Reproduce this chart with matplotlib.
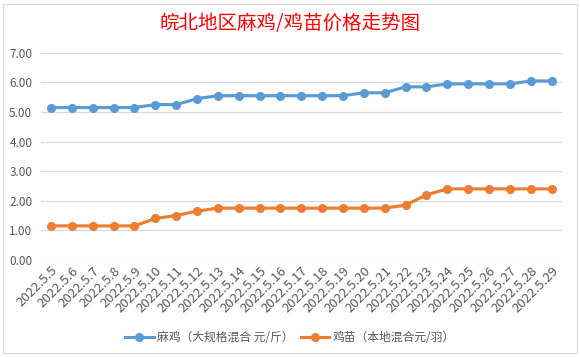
import matplotlib
matplotlib.use("Agg")
import matplotlib.pyplot as plt
from matplotlib.patches import Rectangle

plt.rcParams['font.family'] = ['Noto Sans CJK SC', 'DejaVu Sans']

dates = ["2022.5.5", "2022.5.6", "2022.5.7", "2022.5.8", "2022.5.9", "2022.5.10",
         "2022.5.11", "2022.5.12", "2022.5.13", "2022.5.14", "2022.5.15", "2022.5.16",
         "2022.5.17", "2022.5.18", "2022.5.19", "2022.5.20", "2022.5.21", "2022.5.22",
         "2022.5.23", "2022.5.24", "2022.5.25", "2022.5.26", "2022.5.27", "2022.5.28",
         "2022.5.29"]
ma_ji = [5.15, 5.15, 5.15, 5.15, 5.15, 5.25, 5.25, 5.45, 5.55, 5.55, 5.55, 5.55,
         5.55, 5.55, 5.55, 5.65, 5.65, 5.85, 5.85, 5.95, 5.95, 5.95, 5.95, 6.05, 6.05]
ji_miao = [1.15, 1.15, 1.15, 1.15, 1.15, 1.40, 1.50, 1.65, 1.75, 1.75, 1.75, 1.75,
           1.75, 1.75, 1.75, 1.75, 1.75, 1.85, 2.20, 2.40, 2.40, 2.40, 2.40, 2.40, 2.40]
labels = ["麻鸡（大规格混合 元/斤）", "鸡苗（本地混合元/羽）"]
title = "皖北地区麻鸡/鸡苗价格走势图"
yticks = [0, 1, 2, 3, 4, 5, 6, 7]

fig = plt.figure(figsize=(5.8, 3.57), dpi=100)
fig.patches.append(Rectangle((0.006, 0.012), 0.988, 0.978, transform=fig.transFigure,
                             fill=False, edgecolor='#D9D9D9', linewidth=0.8))
ax = fig.add_axes([0.070, 0.272, 0.899, 0.580])

x = list(range(len(dates)))
ax.plot(x, ma_ji, color='#5B9BD5', linewidth=2.25, marker='o', markersize=5.5, label=labels[0], zorder=3)
ax.plot(x, ji_miao, color='#ED7D31', linewidth=2.25, marker='o', markersize=5.5, label=labels[1], zorder=3)

ax.set_xlim(-0.5, len(dates) - 0.5)
ax.set_ylim(0, 7)
ax.set_yticks(yticks)
ax.set_yticklabels([f"{v:.2f}" for v in yticks])
ax.set_xticks(x)
ax.set_xticklabels(dates, rotation=45, ha='right', va='top', rotation_mode='anchor')
ax.grid(axis='y', color='#D9D9D9', linewidth=0.9)
ax.set_axisbelow(True)
for s in ax.spines.values():
    s.set_visible(False)
ax.tick_params(axis='both', length=0, labelcolor='#595959')
ax.tick_params(axis='y', labelsize=8.5, pad=6)
ax.tick_params(axis='x', labelsize=9.5, pad=3)

fig.text(0.5, 0.935, title, color='#FF0000', fontsize=14, ha='center', va='center')

fig.legend(loc='center', bbox_to_anchor=(0.5, 0.055), ncol=2, frameon=False,
           fontsize=8.5, handlelength=2.4, columnspacing=0.6, handletextpad=0.3,
           labelcolor='#595959')

fig.savefig("out.png", dpi=100)
